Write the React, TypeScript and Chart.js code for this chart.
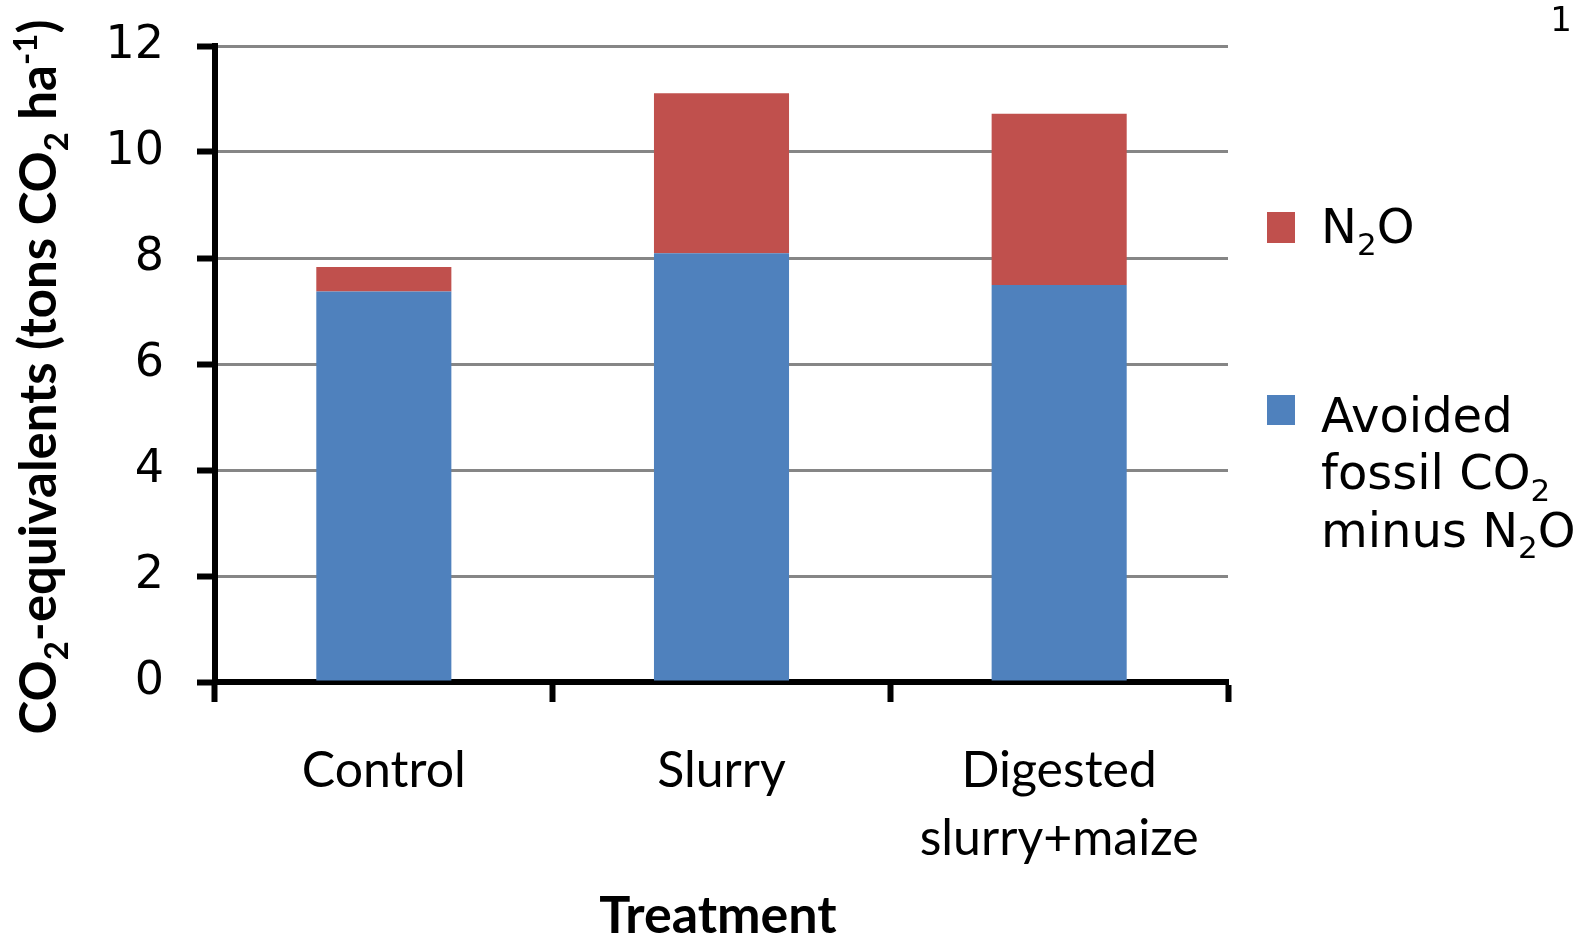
import React, { useEffect, useRef } from "react";
import { Chart, registerables } from "chart.js";

Chart.register(...registerables);

// Treatments on the category axis (multi-line labels are arrays)
const treatments: (string | string[])[] = ["Control", "Slurry", ["Digested", "slurry+maize"]];

// Stacked components, tons CO2-equivalents per hectare
const avoidedFossilCO2MinusN2O = [7.37, 8.09, 7.49];
const n2oEquivalents = [0.46, 3.02, 3.23];

// Value axis
const yMin = 0;
const yMax = 12;
const yStep = 2;

// Legend text lines per series
const n2oLegendLines = ["N₂O"];
const avoidedLegendLines = ["Avoided", "fossil CO₂", "minus N₂O"];

const yAxisTitle = "CO₂-equivalents (tons CO₂ ha⁻¹)";
const xAxisTitle = "Treatment";
const pageNumber = "1";

const BLUE = "#4F81BD";
const RED = "#C0504D";
const GRID = "#868686";

const W = 1581;
const H = 938;

const SUB = "₀₁₂₃₄₅₆₇₈₉";
const SUP: Record<string, string> = {
  "⁰": "0", "¹": "1", "²": "2", "³": "3", "⁴": "4", "⁵": "5",
  "⁶": "6", "⁷": "7", "⁸": "8", "⁹": "9", "⁻": "-",
};

type Run = { text: string; kind: "n" | "sub" | "sup" };

function splitRuns(text: string): Run[] {
  const runs: Run[] = [];
  for (const ch of text) {
    let kind: Run["kind"] = "n";
    let c = ch;
    const si = SUB.indexOf(ch);
    if (si >= 0) {
      kind = "sub";
      c = String(si);
    } else if (SUP[ch] !== undefined) {
      kind = "sup";
      c = SUP[ch];
    }
    const last = runs[runs.length - 1];
    if (last && last.kind === kind) last.text += c;
    else runs.push({ text: c, kind });
  }
  return runs;
}

function richWidth(ctx: CanvasRenderingContext2D, text: string, size: number, family: string, weight: string) {
  let w = 0;
  for (const r of splitRuns(text)) {
    const s = r.kind === "n" ? size : Math.round(size * 0.64);
    ctx.font = `${weight} ${s}px ${family}`;
    w += ctx.measureText(r.text).width;
  }
  return w;
}

// Draws text with sub/superscripts, starting at x on baseline y
function drawRich(
  ctx: CanvasRenderingContext2D,
  text: string,
  x: number,
  y: number,
  size: number,
  family: string,
  weight = "normal"
) {
  let cx = x;
  ctx.textBaseline = "alphabetic";
  ctx.textAlign = "left";
  for (const r of splitRuns(text)) {
    const s = r.kind === "n" ? size : Math.round(size * 0.64);
    const dy = r.kind === "sub" ? size * 0.24 : r.kind === "sup" ? -size * 0.38 : 0;
    ctx.font = `${weight} ${s}px ${family}`;
    ctx.fillText(r.text, cx, y + dy);
    cx += ctx.measureText(r.text).width;
  }
}

const decorations = {
  id: "decorations",
  afterDraw(chart: Chart) {
    const ctx = chart.ctx;
    ctx.save();
    ctx.fillStyle = "#000";

    // Legend, top entry is the upper stack segment
    const legendItems = [
      { color: RED, lines: n2oLegendLines, boxTop: 212, boxH: 31, firstBaseline: 243 },
      { color: BLUE, lines: avoidedLegendLines, boxTop: 395, boxH: 30, firstBaseline: 431.5 },
    ];
    for (const item of legendItems) {
      ctx.fillStyle = item.color;
      ctx.fillRect(1267, item.boxTop, 28, item.boxH);
      ctx.fillStyle = "#000";
      item.lines.forEach((line, i) => {
        drawRich(ctx, line, 1321, item.firstBaseline + i * 57.5, 48, "'DejaVu Sans'");
      });
    }

    // Y axis title, rotated
    const family = "Lato";
    const size = 51;
    const tw = richWidth(ctx, yAxisTitle, size, family, "bold");
    ctx.save();
    ctx.translate(56, 377);
    ctx.rotate(-Math.PI / 2);
    drawRich(ctx, yAxisTitle, -tw / 2, 0, size, family, "bold");
    ctx.restore();

    // X axis title
    const xw = richWidth(ctx, xAxisTitle, 52, family, "bold");
    drawRich(ctx, xAxisTitle, 718 - xw / 2, 933, 52, family, "bold");

    // Page number
    ctx.font = "34px 'DejaVu Sans'";
    ctx.textAlign = "right";
    ctx.textBaseline = "alphabetic";
    ctx.fillText(pageNumber, 1572, 31);

    ctx.restore();
  },
};

export default function App() {
  const canvasRef = useRef<HTMLCanvasElement | null>(null);

  useEffect(() => {
    document.body.style.margin = "0";
    const canvas = canvasRef.current;
    if (!canvas) return;

    const chart = new Chart(canvas, {
      type: "bar",
      data: {
        labels: treatments,
        datasets: [
          {
            label: avoidedLegendLines.join(" "),
            data: avoidedFossilCO2MinusN2O,
            backgroundColor: BLUE,
            borderWidth: 0,
            barPercentage: 0.4,
            categoryPercentage: 1.0,
          },
          {
            label: n2oLegendLines.join(" "),
            data: n2oEquivalents,
            backgroundColor: RED,
            borderWidth: 0,
            barPercentage: 0.4,
            categoryPercentage: 1.0,
          },
        ],
      },
      options: {
        animation: false,
        responsive: true,
        maintainAspectRatio: false,
        devicePixelRatio: 1,
        layout: { padding: { left: 0, right: W - 1228, top: 46, bottom: 0 } },
        plugins: {
          legend: { display: false },
          tooltip: { enabled: false },
          title: { display: false },
        },
        scales: {
          x: {
            stacked: true,
            afterFit(scale: any) {
              scale.height = H - 682;
            },
            grid: {
              offset: true,
              drawOnChartArea: false,
              tickLength: 20,
              tickColor: "#000",
              tickWidth: 6,
            },
            border: { color: "#000", width: 6 },
            ticks: {
              color: "#000",
              padding: 35,
              font: { family: "Lato", size: 50, lineHeight: 1.36 },
              maxRotation: 0,
              autoSkip: false,
            },
          },
          y: {
            stacked: true,
            min: yMin,
            max: yMax,
            afterFit(scale: any) {
              scale.width = 215;
              // the plot edges are set by the layout padding alone
              scale.paddingTop = 0;
              scale.paddingBottom = 0;
            },
            grid: {
              color: GRID,
              lineWidth: 3,
              tickLength: 18,
              tickColor: "#000",
              tickWidth: 6,
            },
            border: { color: "#000", width: 6 },
            ticks: {
              stepSize: yStep,
              color: "#000",
              padding: 33,
              font: { family: "'DejaVu Sans'", size: 46 },
            },
          },
        },
      },
      plugins: [decorations],
    });

    return () => chart.destroy();
  }, []);

  return (
    <div style={{ position: "relative", width: W, height: H, background: "#fff" }}>
      <canvas ref={canvasRef} />
    </div>
  );
}
